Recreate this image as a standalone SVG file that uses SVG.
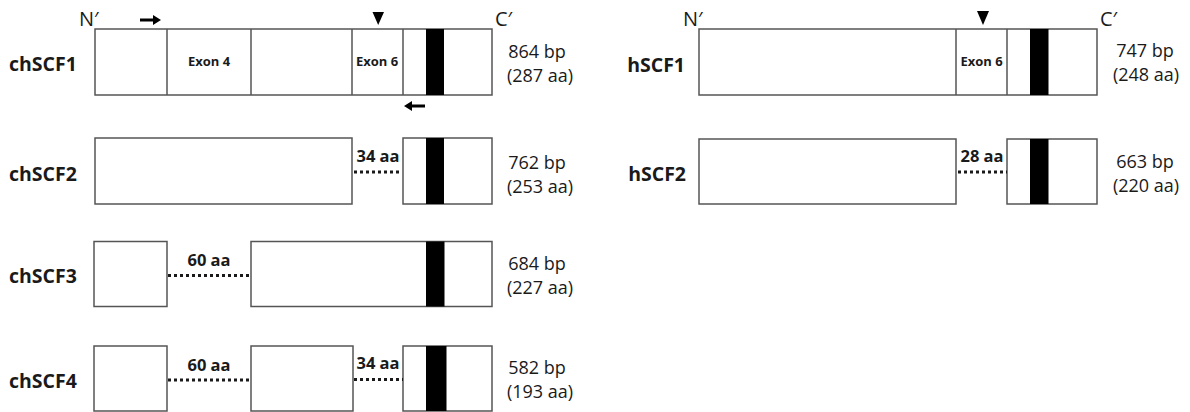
<svg xmlns="http://www.w3.org/2000/svg" width="1190" height="412" viewBox="0 0 1190 412">
<style>
  .box{fill:#fff;stroke:#555;stroke-width:1.5}
  .div{stroke:#555;stroke-width:1.5;fill:none}
  .bar{fill:#000}
  .lbl{font-family:"Open Sans","Liberation Sans",sans-serif;font-weight:bold;font-size:19.5px;fill:#1a1a1a}
  .exon{font-family:"Open Sans","Liberation Sans",sans-serif;font-weight:bold;font-size:13px;fill:#1a1a1a;text-anchor:middle}
  .gap{font-family:"Open Sans","Liberation Sans",sans-serif;font-weight:bold;font-size:16.5px;fill:#1a1a1a;text-anchor:middle}
  .size{font-family:"Open Sans","Liberation Sans",sans-serif;font-size:18px;fill:#1a1a1a;text-anchor:middle}
  .term{font-family:"Open Sans","Liberation Sans",sans-serif;font-size:20px;fill:#1a1a1a}
  .dot{stroke:#1a1a1a;stroke-width:3;stroke-dasharray:3 3;fill:none}
  .mark{fill:#000}
</style>

<g id="chSCF1">
  <text class="term" x="79" y="25.5">N′</text>
  <text class="term" x="495" y="25.5">C′</text>
  <path class="mark" d="M140,18.5 H153 V15 L161,20 L153,25 V21.5 H140 Z"/>
  <path class="mark" d="M372.5,12 H384 L378.2,25 Z"/>
  <path class="mark" d="M425,104.5 H412 V101 L404,106 L412,111 V107.5 H425 Z"/>
  <rect class="box" x="95" y="29" width="397" height="66"/>
  <path class="div" d="M167,29 V95 M251,29 V95 M352,29 V95 M403,29 V95"/>
  <rect class="bar" x="426" y="29" width="18" height="66"/>
  <text class="lbl" x="9" y="71">chSCF1</text>
  <text class="exon" x="209" y="66">Exon 4</text>
  <text class="exon" x="377" y="65.5">Exon 6</text>
  <text class="size" x="537" y="58">864 bp</text>
  <text class="size" x="540" y="82">(287 aa)</text>
</g>

<g id="chSCF2">
  <rect class="box" x="95" y="138" width="257" height="66"/>
  <rect class="box" x="403" y="138" width="89" height="66"/>
  <rect class="bar" x="426" y="138" width="18" height="66"/>
  <text class="lbl" x="9" y="181">chSCF2</text>
  <text class="gap" x="378" y="161.5">34 aa</text>
  <text class="size" x="537" y="169">762 bp</text>
  <text class="size" x="540" y="193">(253 aa)</text>
</g>

<g id="chSCF3">
  <rect class="box" x="94" y="241.5" width="73" height="65"/>
  <rect class="box" x="251" y="241.5" width="241" height="65"/>
  <rect class="bar" x="426" y="241.5" width="18.5" height="65"/>
  <text class="lbl" x="9" y="283">chSCF3</text>
  <text class="gap" x="209" y="266">60 aa</text>
  <text class="size" x="537" y="270">684 bp</text>
  <text class="size" x="540" y="294">(227 aa)</text>
</g>

<g id="chSCF4">
  <rect class="box" x="94" y="346" width="73" height="65"/>
  <rect class="box" x="251" y="346" width="102" height="65"/>
  <rect class="box" x="403" y="346" width="89" height="65"/>
  <rect class="bar" x="426" y="346" width="20.5" height="65"/>
  <text class="lbl" x="9" y="388">chSCF4</text>
  <text class="gap" x="209" y="371">60 aa</text>
  <text class="gap" x="378" y="369">34 aa</text>
  <text class="size" x="537" y="374">582 bp</text>
  <text class="size" x="540" y="398">(193 aa)</text>
</g>

<g id="hSCF1">
  <text class="term" x="683" y="25.5">N′</text>
  <text class="term" x="1100" y="25.5">C′</text>
  <path class="mark" d="M977,11 H989 L983,25 Z"/>
  <rect class="box" x="699" y="29" width="398" height="66"/>
  <path class="div" d="M956,29 V95 M1007,29 V95"/>
  <rect class="bar" x="1030" y="29" width="18.5" height="66"/>
  <text class="lbl" x="685" y="72" text-anchor="end">hSCF1</text>
  <text class="exon" x="981.5" y="65.5">Exon 6</text>
  <text class="size" x="1145" y="57">747 bp</text>
  <text class="size" x="1146" y="81">(248 aa)</text>
</g>

<g id="hSCF2">
  <rect class="box" x="699" y="139" width="257" height="65"/>
  <rect class="box" x="1007" y="139" width="90" height="65"/>
  <rect class="bar" x="1030" y="139" width="18.5" height="65"/>
  <text class="lbl" x="686" y="181" text-anchor="end">hSCF2</text>
  <text class="gap" x="982" y="161.5">28 aa</text>
  <text class="size" x="1145" y="168">663 bp</text>
  <text class="size" x="1146" y="192">(220 aa)</text>
</g>

<g id="connectors">
  <path class="dot" d="M354,172 H402"/>
  <path class="dot" d="M168,275.5 H251"/>
  <path class="dot" d="M168,380 H251"/>
  <path class="dot" d="M354,379.5 H403"/>
  <path class="dot" d="M958,172 H1007"/>
</g>
</svg>
